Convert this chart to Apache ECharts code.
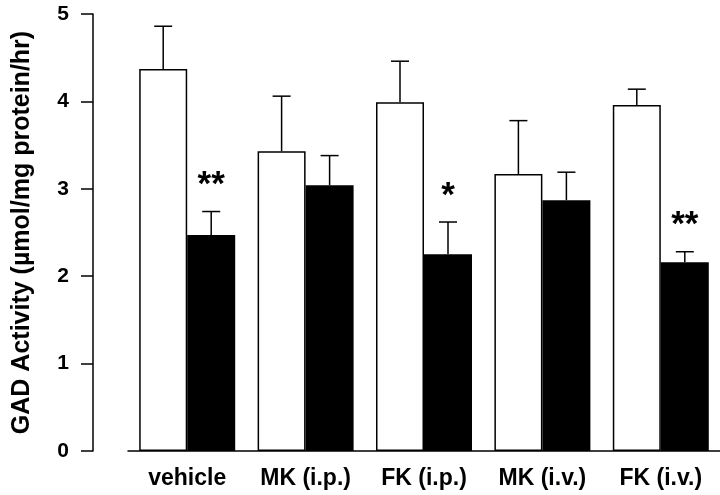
<!DOCTYPE html>
<html>
<head>
<meta charset="utf-8">
<script src="https://cdn.jsdelivr.net/npm/echarts@6/dist/echarts.min.js"></script>
<style>
  html, body { margin: 0; padding: 0; background: #fff; }
  #chart { width: 720px; height: 495px; }
</style>
</head>
<body>
<div id="chart"></div>
<script>
const categories = ["vehicle", "MK (i.p.)", "FK (i.p.)", "MK (i.v.)", "FK (i.v.)"];
// open bars / filled bars, mean and SEM
const openMean = [4.37, 3.43, 3.99, 3.17, 3.96];
const openErr = [0.49, 0.63, 0.47, 0.61, 0.18];
const filledMean = [2.47, 3.04, 2.25, 2.87, 2.16];
const filledErr = [0.27, 0.34, 0.37, 0.32, 0.12];
const significance = ["**", "", "*", "", "**"];
const yTicks = [0, 1, 2, 3, 4, 5];

const fontFamily = "Liberation Sans, Arial, sans-serif";
const barWidth = 48;

const chart = echarts.init(document.getElementById("chart"));

function errorData(mean, err, marks) {
  return mean.map((m, i) => [i, m, +(m + err[i]).toFixed(2), marks ? marks[i] : ""]);
}

function errorSeries(data, shift) {
  return {
    type: "custom",
    data,
    z: 10,
    renderItem(params, api) {
      const base = api.coord([api.value(0), api.value(1)]);
      const top = api.coord([api.value(0), api.value(2)]);
      const x = base[0] + shift;
      const children = [
        {
          type: "line",
          shape: { x1: x, y1: base[1], x2: x, y2: top[1] },
          style: { stroke: "#000", lineWidth: 1.5 },
        },
        {
          type: "line",
          shape: { x1: x - 9, y1: top[1], x2: x + 9, y2: top[1] },
          style: { stroke: "#000", lineWidth: 1.5 },
        },
      ];
      const mark = data[params.dataIndex][3];
      if (mark) {
        children.push({
          type: "text",
          style: {
            text: mark,
            x: x,
            y: top[1] - 26,
            align: "center",
            verticalAlign: "middle",
            fill: "#000",
            font: "bold 35px " + fontFamily,
          },
        });
      }
      return { type: "group", children };
    },
  };
}

chart.setOption({
  animation: false,
  textStyle: { fontFamily },
  grid: {
    left: 128,
    right: 0,
    top: 14,
    bottom: 44,
    containLabel: false,
    outerBoundsMode: "none",
  },
  xAxis: {
    type: "category",
    data: categories,
    boundaryGap: true,
    axisLine: { lineStyle: { color: "#000", width: 1.5 } },
    axisTick: { alignWithLabel: true, length: 8, lineStyle: { color: "#000", width: 1.5 } },
    axisLabel: {
      color: "#000",
      fontWeight: "bold",
      fontSize: 23,
      margin: 16,
      fontFamily,
    },
    splitLine: { show: false },
  },
  yAxis: {
    type: "value",
    min: yTicks[0],
    max: yTicks[yTicks.length - 1],
    interval: 1,
    offset: 35,
    name: "GAD Activity (\u00b5mol/mg protein/hr)",
    nameLocation: "middle",
    nameGap: 58,
    nameTextStyle: {
      color: "#000",
      fontWeight: "bold",
      fontSize: 25,
      fontFamily,
    },
    axisLine: { show: true, lineStyle: { color: "#000", width: 1.5 } },
    axisTick: { show: true, length: 12, lineStyle: { color: "#000", width: 1.5 } },
    axisLabel: {
      color: "#000",
      fontWeight: "bold",
      fontSize: 21,
      margin: 24,
      fontFamily,
    },
    splitLine: { show: false },
  },
  series: [
    {
      name: "open",
      type: "bar",
      data: openMean,
      barWidth,
      barGap: "0%",
      itemStyle: { color: "#fff", borderColor: "#000", borderWidth: 1.5 },
    },
    {
      name: "filled",
      type: "bar",
      data: filledMean,
      barWidth,
      barGap: "0%",
      itemStyle: { color: "#000" },
    },
    errorSeries(errorData(openMean, openErr), -barWidth / 2),
    errorSeries(errorData(filledMean, filledErr, significance), barWidth / 2),
  ],
});
</script>
</body>
</html>
